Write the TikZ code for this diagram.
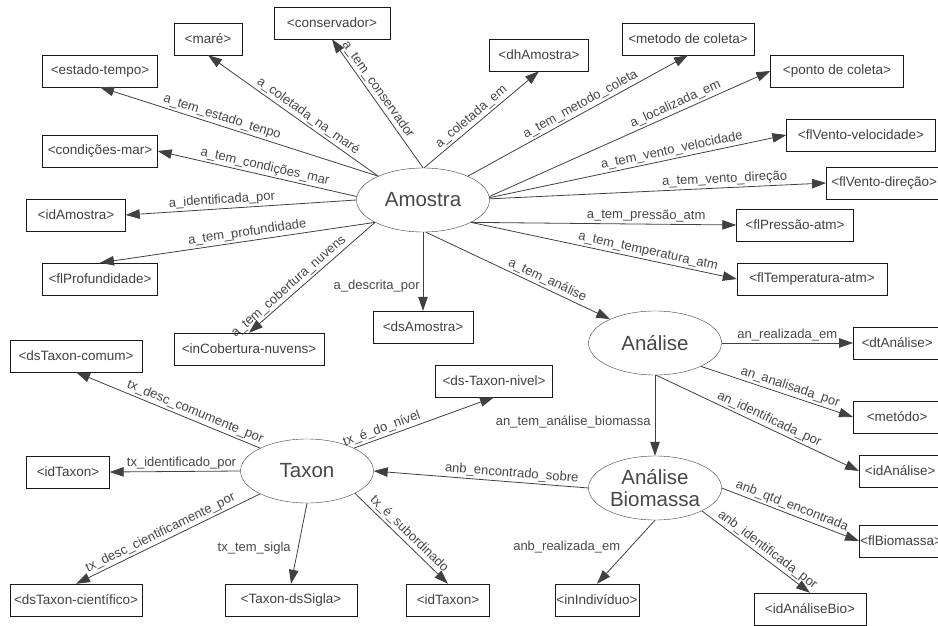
\documentclass[tikz,border=0pt]{standalone}
\usepackage{fontspec}
\setmainfont{Liberation Sans}
\usetikzlibrary{arrows.meta,shapes.geometric}

\begin{document}
\begin{tikzpicture}[x=1pt, y=-1pt,
  font=\fontsize{13.5}{15}\selectfont,
  cls/.style={draw=black!75, ellipse, minimum width=133pt, minimum height=64pt,
              inner sep=0pt, align=center, text=black!72,
              font=\fontsize{20.5}{22}\selectfont},
  attr/.style={draw=black!90, minimum height=32pt, inner xsep=1pt, text=black!75},
  rel/.style={draw=black!75, line width=0.8pt, -{Triangle[length=14pt,width=9.5pt]}},
  lbl/.style={font=\fontsize{13}{14}\selectfont, text=black!72, inner sep=2pt}
]
\clip (0,0) rectangle (938,626);
% classes
\node[cls] (am) at (423,200) {Amostra};
\node[cls] (an) at (655,343) {Análise};
\node[cls] (anb) at (655,488) {Análise\\Biomassa};
\node[cls] (tx) at (307,471) {Taxon};
% attributes of Amostra
\node[attr, minimum width=68] (mare) at (208,39) {<maré>};
\node[attr, minimum width=116] (conserv) at (332,23) {<conservador>};
\node[attr, minimum width=115] (estado) at (100,71) {<estado-tempo>};
\node[attr, minimum width=115] (condmar) at (100,151) {<condições-mar>};
\node[attr, minimum width=99] (idam) at (76,215) {<idAmostra>};
\node[attr, minimum width=115] (flprof) at (100,279) {<flProfundidade>};
\node[attr, minimum width=150] (incob) at (249,349) {<inCobertura-nuvens>};
\node[attr, minimum width=100] (dsam) at (423,327) {<dsAmostra>};
\node[attr, minimum width=99] (dham) at (539,55) {<dhAmostra>};
\node[attr, minimum width=132] (metcol) at (688,39) {<metodo de coleta>};
\node[attr, minimum width=133] (ponto) at (837,71) {<ponto de coleta>};
\node[attr, minimum width=149] (vvel) at (861,135) {<flVento-velocidade>};
\node[attr, minimum width=116, anchor=west] (vdir) at (826,183) {<flVento-direção>};
\node[attr, minimum width=117] (press) at (795,225) {<flPressão-atm>};
\node[attr, minimum width=150] (temp) at (812,279) {<flTemperatura-atm>};
% attributes of Análise
\node[attr, minimum width=88, anchor=west] (dtan) at (853,343) {<dtAnálise>};
\node[attr, minimum width=88, anchor=west] (metd) at (853,417) {<metódo>};
\node[attr, minimum width=82, anchor=west] (idan) at (859,471) {<idAnálise>};
\node[attr, minimum width=84, anchor=west] (flbio) at (859,541) {<flBiomassa>};
\node[attr, minimum width=84] (inind) at (597,600) {<inIndivíduo>};
\node[attr, minimum width=112] (idanb) at (810,609) {<idAnáliseBio>};
% attributes of Taxon
\node[attr, minimum width=132] (dscomum) at (76,356) {<dsTaxon-comum>};
\node[attr, minimum width=83] (idtx) at (68,472) {<idTaxon>};
\node[attr, minimum width=132] (dscient) at (76,600) {<dsTaxon-científico>};
\node[attr, minimum width=132] (sigla) at (291,600) {<Taxon-dsSigla>};
\node[attr, minimum width=83] (idtx2) at (448,600) {<idTaxon>};
\node[attr, minimum width=117] (nivel) at (494,381) {<ds-Taxon-nivel>};

% Amostra
\draw[rel] (am.90) -- node[lbl, sloped, above, pos=0.57] {a\_tem\_conservador} (conserv.south);
\draw[rel] (am.152) -- node[lbl, sloped, above, pos=0.44] {a\_coletada\_na\_maré} (mare.south);
\draw[rel] (am.152) -- node[lbl, sloped, above, pos=0.57] {a\_tem\_estado\_tenpo} (estado.south);
\draw[rel] (am.177) -- node[lbl, sloped, above, pos=0.47] {a\_tem\_condições\_mar} (condmar.east);
\draw[rel] (am.180) -- node[lbl, sloped, above, pos=0.58] {a\_identificada\_por} (idam.east);
\draw[rel] (am.205) -- node[lbl, sloped, above, pos=0.46] {a\_tem\_profundidade} (flprof.north);
\draw[rel] (am.205) -- node[lbl, sloped, above, pos=0.64] {a\_tem\_cobertura\_nuvens} (incob.north);
\draw[rel] (am.270) -- node[lbl, left=1pt, pos=0.68] {a\_descrita\_por} (dsam.north);
\draw[rel] (am.275) -- node[lbl, sloped, above, pos=0.64] {a\_tem\_análise} (an.152);
\draw[rel] (am.88) -- node[lbl, sloped, above, pos=0.46] {a\_coletada\_em} (dham.south);
\draw[rel] (am.28) -- node[lbl, sloped, above, pos=0.53] {a\_tem\_metodo\_coleta} (metcol.south);
\draw[rel] (am.3) -- node[lbl, sloped, above, pos=0.675] {a\_localizada\_em} (ponto.west);
\draw[rel] (am.2) -- node[lbl, sloped, above, pos=0.62] {a\_tem\_vento\_velocidade} (vvel.west);
\draw[rel] (am.1) -- node[lbl, sloped, above, pos=0.70] {a\_tem\_vento\_direção} (vdir.west);
\draw[rel] (am.335) -- node[lbl, sloped, above, pos=0.66] {a\_tem\_pressão\_atm} (press.west);
\draw[rel] (am.335) -- node[lbl, sloped, above, pos=0.66] {a\_tem\_temperatura\_atm} (temp.west);
% Análise
\draw[rel] (an.0) -- node[lbl, above, pos=0.5] {an\_realizada\_em} (dtan.west);
\draw[rel] (an.333) -- node[lbl, sloped, above, pos=0.57] {an\_analisada\_por} (metd.west);
\draw[rel] (an.272) -- node[lbl, sloped, above, pos=0.54] {an\_identificada\_por} (idan.west);
\draw[rel] (an.270) -- node[lbl, left=2pt, pos=0.58] {an\_tem\_análise\_biomassa} (anb.90);
% Análise Biomassa
\draw[rel] (anb.180) -- node[lbl, sloped, above, pos=0.36] {anb\_encontrado\_sobre} (tx.east);
\draw[rel] (anb.270) -- node[lbl, left=8pt, pos=0.42] {anb\_realizada\_em} (inind.north);
\draw[rel] (anb.0) -- node[lbl, sloped, above, pos=0.49] {anb\_qtd\_encontrada} (flbio.west);
\draw[rel] (anb.334) -- node[lbl, sloped, above, pos=0.56] {anb\_identificada\_por} (idanb.north);
% Taxon
\draw[rel] (tx.154) -- node[lbl, sloped, above, pos=0.37] {tx\_desc\_comumente\_por} (dscomum.south);
\draw[rel] (tx.180) -- node[lbl, above, pos=0.45] {tx\_identificado\_por} (idtx.east);
\draw[rel] (tx.206) -- node[lbl, sloped, above, pos=0.52] {tx\_desc\_cientificamente\_por} (dscient.north);
\draw[rel] (tx.270) -- node[lbl, left=5pt, pos=0.56] {tx\_tem\_sigla} (sigla.north);
\draw[rel] (tx.335) -- node[lbl, sloped, above, pos=0.52] {tx\_é\_subordinado} (idtx2.north);
\draw[rel] (tx.26) -- node[lbl, sloped, above, pos=0.22] {tx\_é\_do\_nível} (nivel.south);
\end{tikzpicture}
\end{document}
